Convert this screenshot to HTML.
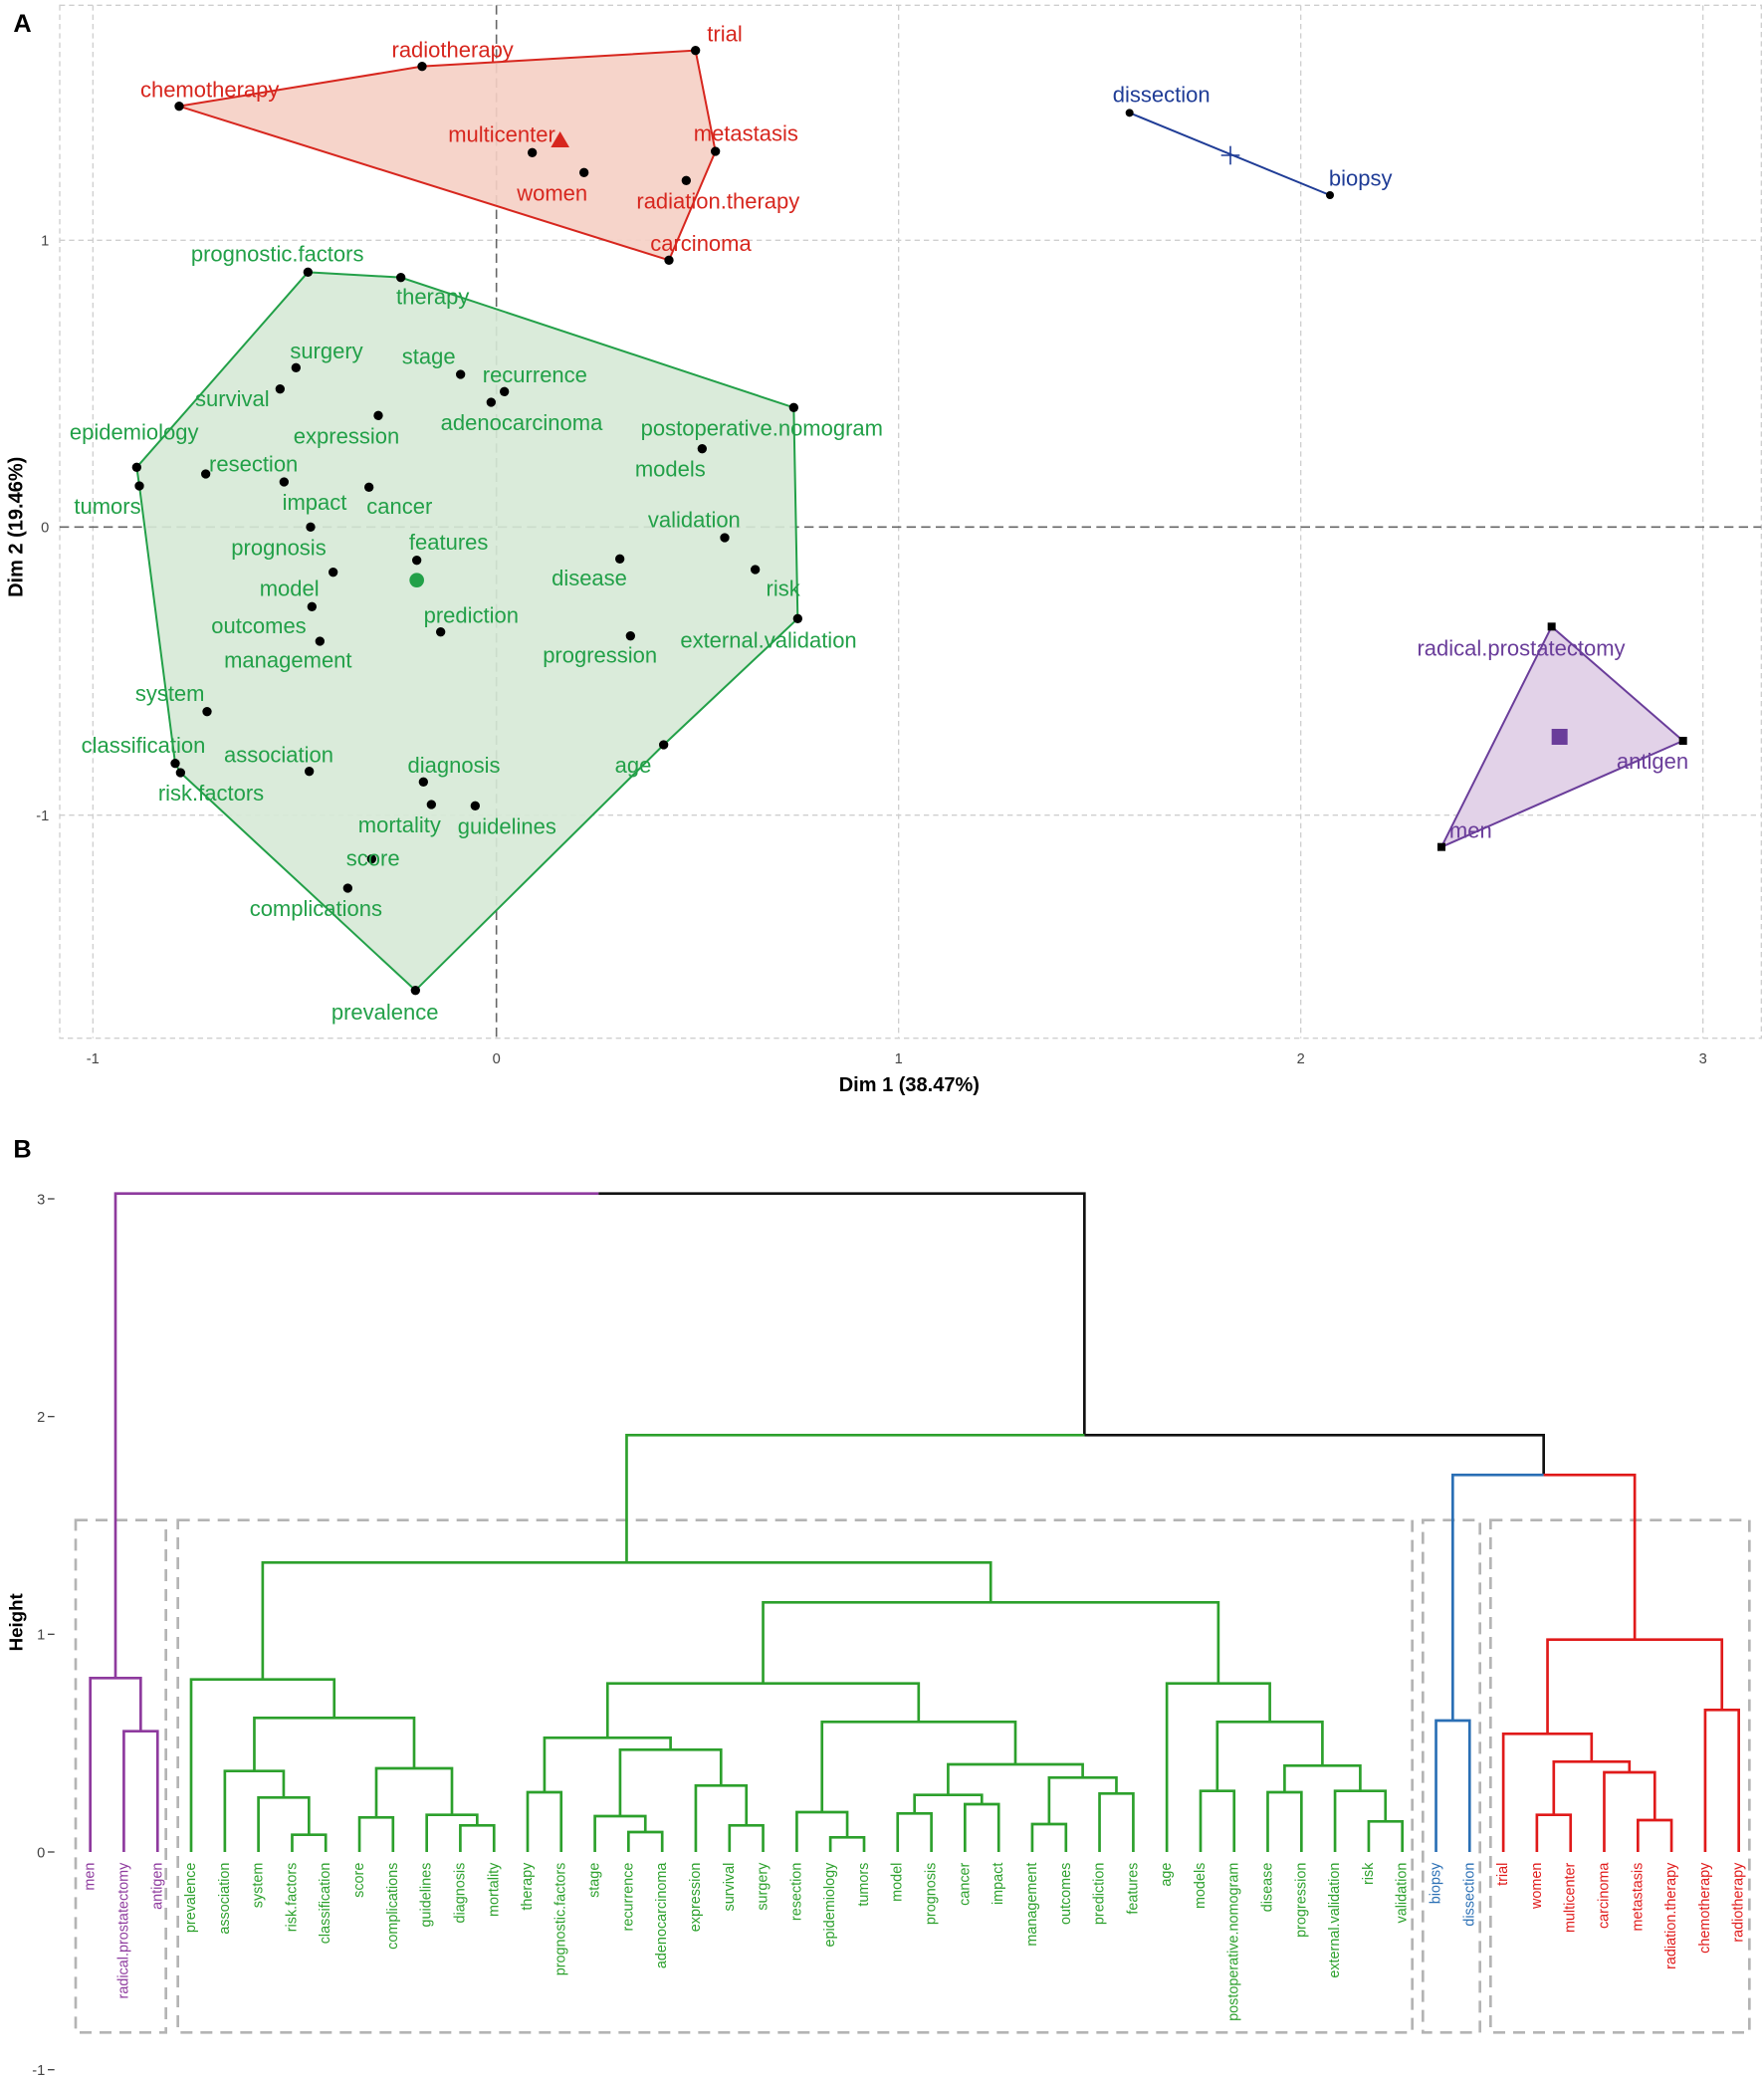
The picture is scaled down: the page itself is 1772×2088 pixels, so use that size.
<!DOCTYPE html>
<html><head><meta charset="utf-8"><style>
html,body{margin:0;padding:0;background:#fff}
svg{display:block}
text{font-family:"Liberation Sans",Arial,sans-serif}
.la{font-size:16.5px;text-anchor:middle}
.g{fill:#22a048}.r{fill:#d7261e}.b{fill:#1f3c96}.p{fill:#6a3d9a}
.lf{font-size:10.8px;text-anchor:end}
.tk{font-size:11px;fill:#444}
.dg{fill:none;stroke-width:2}
</style></head><body>
<svg width="1772" height="2088" viewBox="0 0 1329 1566" preserveAspectRatio="none" xmlns="http://www.w3.org/2000/svg">
<rect width="1329" height="1566" fill="#fff"/>
<!-- Panel A -->
<text x="10" y="24" font-size="19" font-weight="bold">A</text>
<g stroke="#cfcfcf" stroke-width="1" stroke-dasharray="4,3" fill="none">
<rect x="45" y="4" width="1282" height="778"/>
<line x1="70" y1="4" x2="70" y2="782"/><line x1="677" y1="4" x2="677" y2="782"/>
<line x1="980" y1="4" x2="980" y2="782"/><line x1="1283" y1="4" x2="1283" y2="782"/>
<line x1="45" y1="181" x2="1327" y2="181"/><line x1="45" y1="614" x2="1327" y2="614"/>
</g>
<g stroke="#666" stroke-width="1.2" stroke-dasharray="7,4">
<line x1="374" y1="4" x2="374" y2="782"/><line x1="45" y1="397" x2="1327" y2="397"/>
</g>
<g class="tk" text-anchor="middle">
<text x="70" y="801">-1</text><text x="374" y="801">0</text><text x="677" y="801">1</text><text x="980" y="801">2</text><text x="1283" y="801">3</text>
</g>
<g class="tk" text-anchor="end">
<text x="37" y="185">1</text><text x="37" y="401">0</text><text x="37" y="618">-1</text>
</g>
<text x="685" y="822" font-size="15" font-weight="bold" text-anchor="middle">Dim 1 (38.47%)</text>
<text transform="translate(17,397) rotate(-90)" font-size="15" font-weight="bold" text-anchor="middle">Dim 2 (19.46%)</text>

<polygon points="232,205 302,209 598,307 601,466 500,561 313,746 136,582 132,575 105,366 103,352" fill="#d6e9d6" fill-opacity="0.9" stroke="#22a048" stroke-width="1.5"/>
<polygon points="135,80 318,50 524,38 539,114 504,196" fill="#f5cfc4" fill-opacity="0.9" stroke="#d7261e" stroke-width="1.5"/>
<polygon points="1169,472 1268,558 1086,638" fill="#e2d2e8" stroke="#6a3d9a" stroke-width="1.5"/>
<line x1="851" y1="85" x2="1002" y2="147" stroke="#1f3c96" stroke-width="1.5"/>
<g stroke="#1f3c96" stroke-width="1.2"><line x1="920" y1="117" x2="934" y2="117"/><line x1="927" y1="110" x2="927" y2="124"/></g>
<polygon points="422,99 415,111 429,111" fill="#d7261e"/>
<circle cx="314" cy="437" r="5.5" fill="#22a048"/>
<rect x="1169" y="549" width="12" height="12" fill="#6a3d9a"/>

<g fill="#000">
<circle cx="135" cy="80" r="3.5"/><circle cx="318" cy="50" r="3.5"/><circle cx="524" cy="38" r="3.5"/><circle cx="539" cy="114" r="3.5"/><circle cx="504" cy="196" r="3.5"/>
<circle cx="401" cy="115" r="3.5"/><circle cx="440" cy="130" r="3.5"/><circle cx="517" cy="136" r="3.5"/>
<circle cx="851" cy="85" r="3"/><circle cx="1002" cy="147" r="3"/>
<rect x="1166" y="469" width="6" height="6"/><rect x="1265" y="555" width="6" height="6"/><rect x="1083" y="635" width="6" height="6"/>
<circle cx="232" cy="205" r="3.5"/><circle cx="302" cy="209" r="3.5"/><circle cx="598" cy="307" r="3.5"/><circle cx="601" cy="466" r="3.5"/><circle cx="500" cy="561" r="3.5"/><circle cx="313" cy="746" r="3.5"/><circle cx="136" cy="582" r="3.5"/><circle cx="132" cy="575" r="3.5"/><circle cx="105" cy="366" r="3.5"/><circle cx="103" cy="352" r="3.5"/>
<circle cx="223" cy="277" r="3.5"/><circle cx="347" cy="282" r="3.5"/><circle cx="380" cy="295" r="3.5"/><circle cx="370" cy="303" r="3.5"/><circle cx="211" cy="293" r="3.5"/><circle cx="285" cy="313" r="3.5"/><circle cx="529" cy="338" r="3.5"/><circle cx="155" cy="357" r="3.5"/><circle cx="214" cy="363" r="3.5"/><circle cx="278" cy="367" r="3.5"/><circle cx="234" cy="397" r="3.5"/><circle cx="314" cy="422" r="3.5"/><circle cx="546" cy="405" r="3.5"/><circle cx="467" cy="421" r="3.5"/><circle cx="569" cy="429" r="3.5"/><circle cx="251" cy="431" r="3.5"/><circle cx="235" cy="457" r="3.5"/><circle cx="332" cy="476" r="3.5"/><circle cx="475" cy="479" r="3.5"/><circle cx="241" cy="483" r="3.5"/><circle cx="156" cy="536" r="3.5"/><circle cx="233" cy="581" r="3.5"/><circle cx="319" cy="589" r="3.5"/><circle cx="325" cy="606" r="3.5"/><circle cx="358" cy="607" r="3.5"/><circle cx="280" cy="647" r="3.5"/><circle cx="262" cy="669" r="3.5"/>
</g>
<g class="la r">
<text x="158" y="73">chemotherapy</text><text x="341" y="43">radiotherapy</text><text x="546" y="31">trial</text><text x="378" y="107">multicenter</text><text x="562" y="106">metastasis</text><text x="416" y="151">women</text><text x="541" y="157">radiation.therapy</text><text x="528" y="189">carcinoma</text>
</g>
<g class="la b"><text x="875" y="77">dissection</text><text x="1025" y="140">biopsy</text></g>
<g class="la p"><text x="1146" y="494">radical.prostatectomy</text><text x="1245" y="579">antigen</text><text x="1108" y="631">men</text></g>
<g class="la g">
<text x="209" y="197">prognostic.factors</text><text x="326" y="229">therapy</text><text x="246" y="270">surgery</text><text x="323" y="274">stage</text><text x="403" y="288">recurrence</text><text x="175" y="306">survival</text><text x="101" y="331">epidemiology</text><text x="261" y="334">expression</text><text x="393" y="324">adenocarcinoma</text><text x="574" y="328">postoperative.nomogram</text><text x="505" y="359">models</text><text x="191" y="355">resection</text><text x="237" y="384">impact</text><text x="301" y="387">cancer</text><text x="81" y="387">tumors</text><text x="210" y="418">prognosis</text><text x="338" y="414">features</text><text x="523" y="397">validation</text><text x="444" y="441">disease</text><text x="590" y="449">risk</text><text x="218" y="449">model</text><text x="195" y="477">outcomes</text><text x="355" y="469">prediction</text><text x="452" y="499">progression</text><text x="579" y="488">external.validation</text><text x="217" y="503">management</text><text x="128" y="528">system</text><text x="108" y="567">classification</text><text x="210" y="574">association</text><text x="342" y="582">diagnosis</text><text x="477" y="582">age</text><text x="159" y="603">risk.factors</text><text x="301" y="627">mortality</text><text x="382" y="628">guidelines</text><text x="281" y="652">score</text><text x="238" y="690">complications</text><text x="290" y="768">prevalence</text>
</g>

<!-- Panel B -->
<text x="10" y="872" font-size="19" font-weight="bold">B</text>
<g class="tk" text-anchor="end"><text x="34" y="907">3</text><text x="34" y="1071">2</text><text x="34" y="1235">1</text><text x="34" y="1399">0</text><text x="34" y="1563">-1</text></g>
<g stroke="#444" stroke-width="1"><line x1="36" y1="903" x2="41" y2="903"/><line x1="36" y1="1067" x2="41" y2="1067"/><line x1="36" y1="1231" x2="41" y2="1231"/><line x1="36" y1="1395" x2="41" y2="1395"/><line x1="36" y1="1559" x2="41" y2="1559"/></g>
<text transform="translate(17,1222) rotate(-90)" font-size="14" font-weight="bold" text-anchor="middle">Height</text>
<g fill="none" stroke="#b4b4b4" stroke-width="2" stroke-dasharray="9,6">
<rect x="57" y="1145" width="68" height="386"/><rect x="134" y="1145" width="930" height="386"/><rect x="1072" y="1145" width="43" height="386"/><rect x="1123" y="1145" width="195" height="386"/>
</g>
<path class="dg" stroke="#8e3a9e" d="M93.3 1395V1304H118.7V1395M68 1395V1264H106V1304M87 1264V899H451"/>
<path class="dg" stroke="#111" d="M451 899H817V1081M817 1081H1163V1111"/>
<path class="dg" stroke="#2ca02c" d="M220.1 1395V1382H245.4V1395M194.7 1395V1354H232.75V1382M169.4 1395V1334H213.7V1354M270.8 1395V1369H296.1V1395M346.8 1395V1375H372.2V1395M321.5 1395V1367H359.5V1375M283.5 1369V1332H340.5V1367M191.6 1334V1294H312V1332M144 1395V1265H251.8V1294M397.5 1395V1350H422.8V1395M473.5 1395V1380H498.9V1395M448.2 1395V1368H486.2V1380M549.6 1395V1375H574.9V1395M524.2 1395V1345H562.3V1375M467.2 1368V1318H543.2V1345M410.2 1350V1309H505.2V1318M625.6 1395V1384H651V1395M600.3 1395V1365H638.3V1384M676.3 1395V1366H701.7V1395M727 1395V1359H752.4V1395M689 1366V1352H739.7V1359M777.7 1395V1374H803.1V1395M828.4 1395V1351H853.8V1395M790.4 1374V1339H841.1V1351M714.3 1352V1329H815.7V1339M619.3 1365V1297H765V1329M457.7 1309V1268H692.1V1297M904.5 1395V1349H929.8V1395M955.1 1395V1350H980.5V1395M1031.2 1395V1372H1056.5V1395M1005.8 1395V1349H1043.8V1372M967.8 1350V1330H1024.8V1349M917.1 1349V1297H996.3V1330M879.1 1395V1268H956.7V1297M574.9 1268V1207H917.9V1268M197.9 1265V1177H746.4V1207M472.1 1177V1081H817"/>
<path class="dg" stroke="#2a6fb5" d="M1081.9 1395V1296H1107.2V1395M1094.5 1296V1111H1163"/>
<path class="dg" stroke="#e01a1a" d="M1157.9 1395V1367H1183.3V1395M1234 1395V1371H1259.3V1395M1208.6 1395V1335H1246.7V1371M1170.6 1367V1327H1227.6V1335M1132.6 1395V1306H1199.1V1327M1284.7 1395V1288H1310V1395M1165.9 1306V1235H1297.3V1288M1163 1111H1231.6V1235"/>
<g class="lf">
<g fill="#8e3a9e">
<text transform="translate(71,1403) rotate(-90)">men</text><text transform="translate(96.3,1403) rotate(-90)">radical.prostatectomy</text><text transform="translate(121.7,1403) rotate(-90)">antigen</text>
</g>
<g fill="#2ca02c">
<text transform="translate(147,1403) rotate(-90)">prevalence</text><text transform="translate(172.4,1403) rotate(-90)">association</text><text transform="translate(197.7,1403) rotate(-90)">system</text><text transform="translate(223.1,1403) rotate(-90)">risk.factors</text><text transform="translate(248.4,1403) rotate(-90)">classification</text><text transform="translate(273.8,1403) rotate(-90)">score</text><text transform="translate(299.1,1403) rotate(-90)">complications</text><text transform="translate(324.5,1403) rotate(-90)">guidelines</text><text transform="translate(349.8,1403) rotate(-90)">diagnosis</text><text transform="translate(375.2,1403) rotate(-90)">mortality</text><text transform="translate(400.5,1403) rotate(-90)">therapy</text><text transform="translate(425.8,1403) rotate(-90)">prognostic.factors</text><text transform="translate(451.2,1403) rotate(-90)">stage</text><text transform="translate(476.5,1403) rotate(-90)">recurrence</text><text transform="translate(501.9,1403) rotate(-90)">adenocarcinoma</text><text transform="translate(527.2,1403) rotate(-90)">expression</text><text transform="translate(552.6,1403) rotate(-90)">survival</text><text transform="translate(577.9,1403) rotate(-90)">surgery</text><text transform="translate(603.3,1403) rotate(-90)">resection</text><text transform="translate(628.6,1403) rotate(-90)">epidemiology</text><text transform="translate(654,1403) rotate(-90)">tumors</text><text transform="translate(679.3,1403) rotate(-90)">model</text><text transform="translate(704.7,1403) rotate(-90)">prognosis</text><text transform="translate(730,1403) rotate(-90)">cancer</text><text transform="translate(755.4,1403) rotate(-90)">impact</text><text transform="translate(780.7,1403) rotate(-90)">management</text><text transform="translate(806.1,1403) rotate(-90)">outcomes</text><text transform="translate(831.4,1403) rotate(-90)">prediction</text><text transform="translate(856.8,1403) rotate(-90)">features</text><text transform="translate(882.1,1403) rotate(-90)">age</text><text transform="translate(907.5,1403) rotate(-90)">models</text><text transform="translate(932.8,1403) rotate(-90)">postoperative.nomogram</text><text transform="translate(958.1,1403) rotate(-90)">disease</text><text transform="translate(983.5,1403) rotate(-90)">progression</text><text transform="translate(1008.8,1403) rotate(-90)">external.validation</text><text transform="translate(1034.2,1403) rotate(-90)">risk</text><text transform="translate(1059.5,1403) rotate(-90)">validation</text>
</g>
<g fill="#2a6fb5"><text transform="translate(1084.9,1403) rotate(-90)">biopsy</text><text transform="translate(1110.2,1403) rotate(-90)">dissection</text></g>
<g fill="#e01a1a">
<text transform="translate(1135.6,1403) rotate(-90)">trial</text><text transform="translate(1160.9,1403) rotate(-90)">women</text><text transform="translate(1186.3,1403) rotate(-90)">multicenter</text><text transform="translate(1211.6,1403) rotate(-90)">carcinoma</text><text transform="translate(1237,1403) rotate(-90)">metastasis</text><text transform="translate(1262.3,1403) rotate(-90)">radiation.therapy</text><text transform="translate(1287.7,1403) rotate(-90)">chemotherapy</text><text transform="translate(1313,1403) rotate(-90)">radiotherapy</text>
</g>
</g>
</svg>
</body></html>
